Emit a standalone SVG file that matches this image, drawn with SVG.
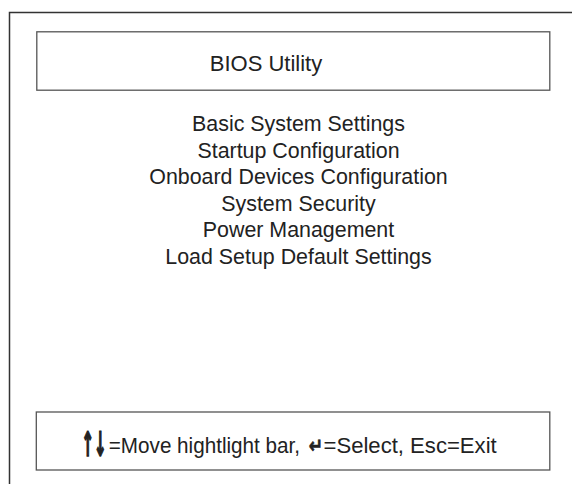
<svg xmlns="http://www.w3.org/2000/svg" width="572" height="484" viewBox="0 0 572 484">
<style>
.frame{fill:none;stroke:#333;stroke-width:1.5}
.box{fill:#fff;stroke:#555;stroke-width:1.3}
.t{font-family:"Liberation Sans",Arial,sans-serif;fill:#222}
.menu{font-size:21.4px;text-anchor:middle}
.sym{font-family:"DejaVu Sans",sans-serif;font-weight:bold;fill:#222;stroke:#222}
</style>
<rect x="0" y="0" width="572" height="484" fill="#fff"/>
<g id="screen-frame">
<path class="frame" d="M9.5,484 V12.5 H572"/>
</g>
<g id="title-bar">
<rect class="box" x="36.8" y="31.8" width="513" height="58.4"/>
<text class="t" x="266" y="70.5" font-size="22" text-anchor="middle">BIOS Utility</text>
</g>
<g id="menu">
<text class="t menu" x="298.5" y="131">Basic System Settings</text>
<text class="t menu" x="298.5" y="157.6">Startup Configuration</text>
<text class="t menu" x="298.5" y="184.2">Onboard Devices Configuration</text>
<text class="t menu" x="298.5" y="210.8">System Security</text>
<text class="t menu" x="298.5" y="237.4">Power Management</text>
<text class="t menu" x="298.5" y="264">Load Setup Default Settings</text>
</g>
<g id="help-bar">
<rect class="box" x="36.3" y="412" width="513.5" height="58"/>
<text class="sym" transform="translate(81.5,456) scale(1,2.25)" font-size="15" stroke-width="0.7">↑↓</text>
<text class="t" x="108.8" y="452.5" font-size="21.5" textLength="191.2" lengthAdjust="spacingAndGlyphs">=Move hightlight bar,</text>
<text class="sym" transform="translate(308.8,453) scale(1.1,1.35)" font-size="15.5" stroke-width="0.5">↵</text>
<text class="t" x="323.5" y="452.5" font-size="21.5" textLength="173.2" lengthAdjust="spacingAndGlyphs">=Select, Esc=Exit</text>
</g>
</svg>
